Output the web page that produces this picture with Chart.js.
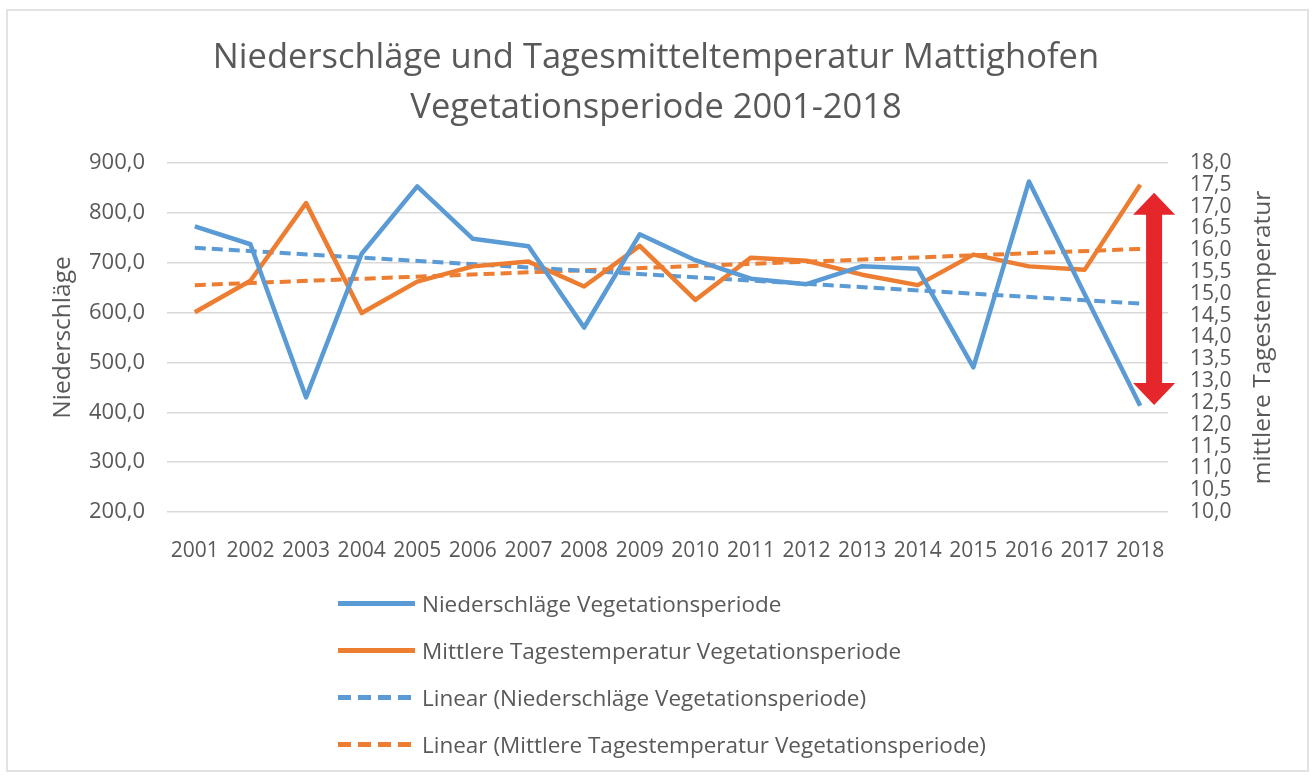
<!DOCTYPE html>
<html lang="de">
<head>
<meta charset="utf-8">
<title>Niederschläge und Tagesmitteltemperatur Mattighofen</title>
<script src="https://cdn.jsdelivr.net/npm/chart.js@4.4.1/dist/chart.umd.min.js"></script>
<style>
  html, body { margin: 0; padding: 0; background: #fff; }
  #wrap { position: relative; width: 1312px; height: 778px; font-family: 'Open Sans', sans-serif; overflow: hidden; }
  #frame { position: absolute; left: 6px; top: 9px; width: 1303px; height: 763px; border: 2px solid #e2e2e2; box-sizing: border-box; }
  #chart { position: absolute; left: 0; top: 0; }
  #legend { position: absolute; left: 338px; top: 580px; }
  .item { display: flex; align-items: center; height: 47px; }
  .swatch { width: 77px; height: 5px; margin-right: 7px; }
  .label { font-size: 22.5px; color: #595959; white-space: nowrap; }
</style>
</head>
<body>
<div id="wrap">
  <div id="frame"></div>
  <canvas id="chart" width="1312" height="778"></canvas>
  <div id="legend"></div>
</div>
<script>
// ---- Daten ----
const years = ['2001', '2002', '2003', '2004', '2005', '2006', '2007', '2008', '2009',
               '2010', '2011', '2012', '2013', '2014', '2015', '2016', '2017', '2018'];

// Niederschläge Vegetationsperiode (mm)
const niederschlag = [773, 737, 430, 718, 853, 748, 733, 570, 757,
                      705, 668, 657, 693, 688, 490, 863, 637, 413];

// Mittlere Tagestemperatur Vegetationsperiode (°C)
const temperatur = [14.58, 15.30, 17.08, 14.56, 15.28, 15.63, 15.74, 15.17, 16.10,
                    14.86, 15.83, 15.76, 15.44, 15.20, 15.90, 15.63, 15.55, 17.50];

const trendNiederschlag = [730, null, null, null, null, null, null, null, null,
                           null, null, null, null, null, null, null, null, 618];
const trendTemperatur = [15.2, null, null, null, null, null, null, null, null,
                         null, null, null, null, null, null, null, null, 16.03];

// Achsen
const niederschlagAchse = { min: 200, max: 900, step: 100 };
const temperaturAchse = { min: 10, max: 18, step: 0.5 };

// roter Doppelpfeil (in °C der rechten Achse)
const pfeilBereich = [12.45, 17.32];

const titel = ['Niederschläge und Tagesmitteltemperatur Mattighofen', 'Vegetationsperiode 2001-2018'];

const BLAU = '#5B9BD5';
const ORANGE = '#ED7D31';
const GRAU = '#595959';
const FONT = "'Open Sans', sans-serif";

const komma = (v) => v.toFixed(1).replace('.', ',');

// Achsentitel + Pfeil
const extras = {
  id: 'extras',
  afterDatasetsDraw(chart) {
    const { ctx, chartArea, scales } = chart;
    const x = scales.x, yT = scales.yT;
    const ax = (x.getPixelForValue(years.length - 1) + chartArea.right) / 2;
    const top = yT.getPixelForValue(pfeilBereich[1]);
    const bot = yT.getPixelForValue(pfeilBereich[0]);
    const shaft = 8, head = 21, headH = 22;
    ctx.save();
    ctx.fillStyle = '#E5262A';
    ctx.beginPath();
    ctx.moveTo(ax, top);
    ctx.lineTo(ax + head, top + headH);
    ctx.lineTo(ax + shaft, top + headH);
    ctx.lineTo(ax + shaft, bot - headH);
    ctx.lineTo(ax + head, bot - headH);
    ctx.lineTo(ax, bot);
    ctx.lineTo(ax - head, bot - headH);
    ctx.lineTo(ax - shaft, bot - headH);
    ctx.lineTo(ax - shaft, top + headH);
    ctx.lineTo(ax - head, top + headH);
    ctx.closePath();
    ctx.fill();
    ctx.restore();
  },
  afterDraw(chart) {
    const { ctx, chartArea } = chart;
    const cy = (chartArea.top + chartArea.bottom) / 2;
    ctx.save();
    ctx.fillStyle = GRAU;
    ctx.font = '24.5px ' + FONT;
    ctx.textAlign = 'center';
    ctx.textBaseline = 'middle';
    [['Niederschläge', chartArea.left - 104], ['mittlere Tagestemperatur', chartArea.right + 95]].forEach(([t, px]) => {
      ctx.save();
      ctx.translate(px, cy);
      ctx.rotate(-Math.PI / 2);
      ctx.fillText(t, 0, 0);
      ctx.restore();
    });
    ctx.restore();
  }
};

const datasets = [
  { label: 'Niederschläge Vegetationsperiode', data: niederschlag, yAxisID: 'yN',
    borderColor: BLAU, borderWidth: 4.5, dash: [] },
  { label: 'Mittlere Tagestemperatur Vegetationsperiode', data: temperatur, yAxisID: 'yT',
    borderColor: ORANGE, borderWidth: 4.5, dash: [] },
  { label: 'Linear (Niederschläge Vegetationsperiode)', data: trendNiederschlag, yAxisID: 'yN',
    borderColor: BLAU, borderWidth: 4, dash: [11, 6] },
  { label: 'Linear (Mittlere Tagestemperatur Vegetationsperiode)', data: trendTemperatur, yAxisID: 'yT',
    borderColor: ORANGE, borderWidth: 4, dash: [11, 6] }
];

new Chart(document.getElementById('chart'), {
  type: 'line',
  data: {
    labels: years,
    datasets: datasets.map(d => ({
      label: d.label,
      data: d.data,
      yAxisID: d.yAxisID,
      borderColor: d.borderColor,
      backgroundColor: d.borderColor,
      borderWidth: d.borderWidth,
      borderDash: d.dash,
      borderCapStyle: 'butt',
      borderJoinStyle: 'round',
      pointRadius: 0,
      tension: 0,
      spanGaps: true,
      fill: false
    }))
  },
  options: {
    responsive: false,
    animation: false,
    devicePixelRatio: 1,
    layout: { padding: 0 },
    plugins: {
      legend: { display: false },
      tooltip: { enabled: false },
      title: {
        display: true,
        text: titel,
        color: GRAU,
        font: { family: FONT, size: 34.5, weight: 'normal', lineHeight: 1.449 },
        padding: { top: 33, bottom: 30 }
      }
    },
    scales: {
      x: {
        offset: true,
        grid: { display: false, drawTicks: false },
        border: { display: false },
        ticks: { color: GRAU, font: { family: FONT, size: 21 }, padding: 26, autoSkip: false, maxRotation: 0 },
        afterFit: s => { s.height = 266; }
      },
      yN: {
        position: 'left',
        min: niederschlagAchse.min,
        max: niederschlagAchse.max,
        grid: { color: '#d9d9d9', lineWidth: 1.5, drawTicks: false },
        border: { display: false },
        ticks: { stepSize: niederschlagAchse.step, color: GRAU, font: { family: FONT, size: 22 }, padding: 22,
                 callback: v => komma(v) },
        afterFit: s => { s.width = 167; }
      },
      yT: {
        position: 'right',
        min: temperaturAchse.min,
        max: temperaturAchse.max,
        grid: { display: false, drawTicks: false },
        border: { display: false },
        ticks: { stepSize: temperaturAchse.step, color: GRAU, font: { family: FONT, size: 21, lineHeight: 1 },
                 padding: 22, autoSkip: false, callback: v => komma(v) },
        afterFit: s => { s.width = 144; }
      }
    }
  },
  plugins: [extras]
});

// Legende (senkrecht, wie im Original)
const legend = document.getElementById('legend');
datasets.forEach(d => {
  const row = document.createElement('div');
  row.className = 'item';
  const sw = document.createElement('div');
  sw.className = 'swatch';
  sw.style.background = d.dash.length
    ? `repeating-linear-gradient(to right, ${d.borderColor} 0 13px, transparent 13px 20px)`
    : d.borderColor;
  const lb = document.createElement('span');
  lb.className = 'label';
  lb.textContent = d.label;
  row.appendChild(sw);
  row.appendChild(lb);
  legend.appendChild(row);
});
</script>
</body>
</html>
